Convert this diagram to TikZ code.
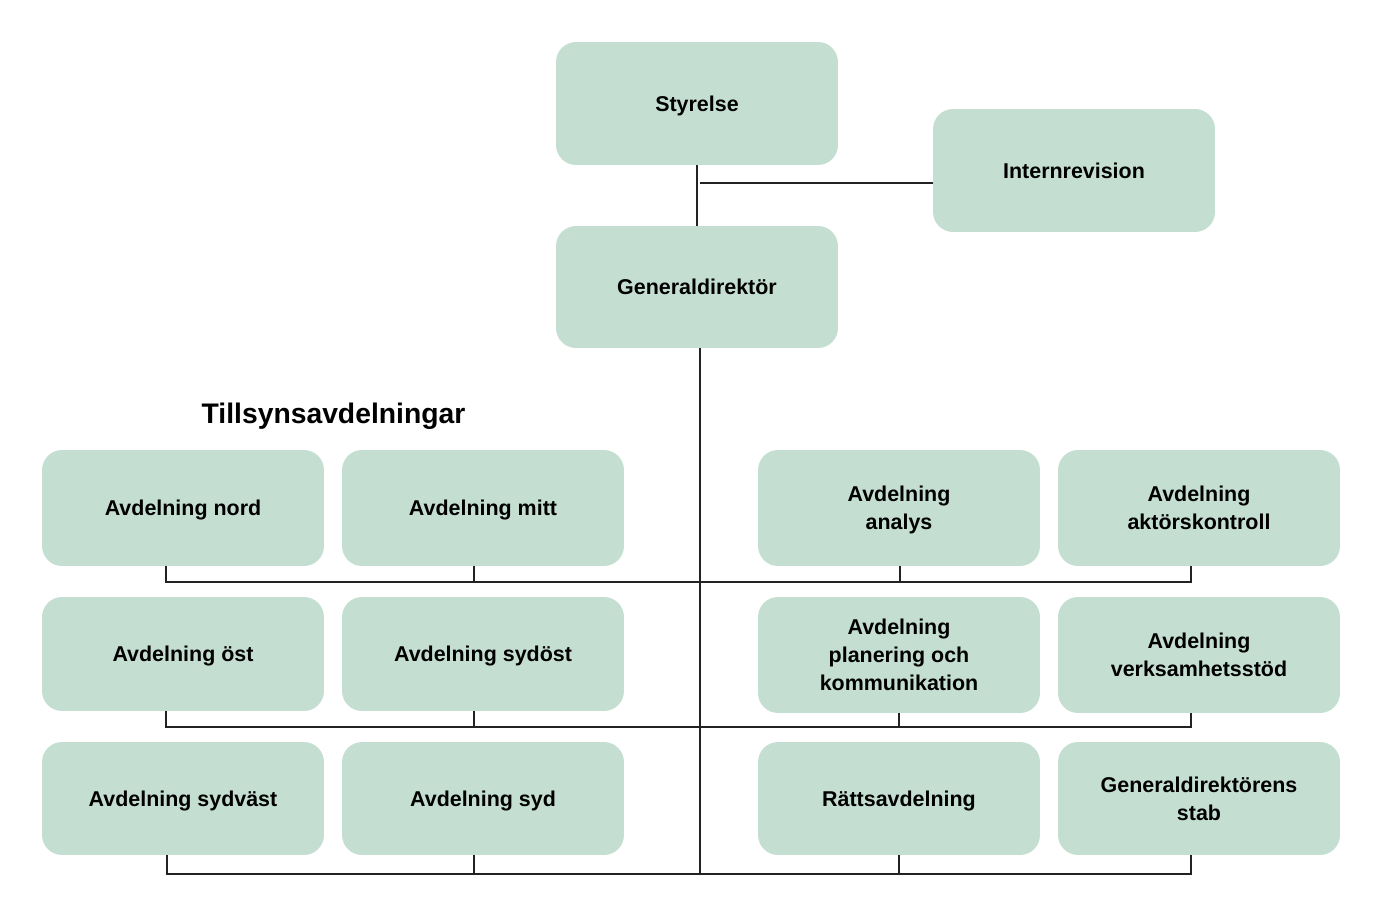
\documentclass[tikz,border=0pt]{standalone}
\usepackage{fontspec}
\setmainfont{Liberation Sans}
\definecolor{boxgreen}{HTML}{C4DED2}
\definecolor{linecol}{HTML}{222222}
\newcommand{\nd}[1]{\raisebox{0pt}[\height][0pt]{#1}}
\begin{document}
\begin{tikzpicture}[x=0.02cm,y=-0.02cm,
  box/.style={rectangle, rounded corners=0.4cm, fill=boxgreen, minimum width=5.64cm, minimum height=2.32cm, align=center, inner sep=2pt, font=\bfseries\fontsize{12.2}{15.9}\selectfont},
  conn/.style={line width=1.1pt, linecol}]
\useasboundingbox (0,0) rectangle (1382,919);
% top
\node[box, minimum height=2.46cm] (sty) at (697,103.5) {\nd{Styrelse}};
\node[box, minimum height=2.46cm] (ir) at (1074,170.5) {\nd{Internrevision}};
\node[box, minimum height=2.44cm] (gd) at (697,287) {\nd{Generaldirektör}};
\node[font=\bfseries\fontsize{16.1}{19}\selectfont] (title) at (333.5,416) {Tillsynsavdelningar};
% row 1
\node[box] (nord) at (183,508) {\nd{Avdelning nord}};
\node[box] (mitt) at (483,508) {\nd{Avdelning mitt}};
\node[box] (analys) at (899,508) {Avdelning\\\nd{analys}};
\node[box] (aktor) at (1199,508) {Avdelning\\\nd{aktörskontroll}};
% row 2
\node[box, minimum height=2.28cm] (ost) at (183,654) {\nd{Avdelning öst}};
\node[box, minimum height=2.28cm] (sydost) at (483,654) {\nd{Avdelning sydöst}};
\node[box] (plan) at (899,655) {Avdelning\\planering och\\\nd{kommunikation}};
\node[box] (verk) at (1199,655) {Avdelning\\\nd{verksamhetsstöd}};
% row 3
\node[box, minimum height=2.26cm] (sydvast) at (183,798.5) {\nd{Avdelning sydväst}};
\node[box, minimum height=2.26cm] (syd) at (483,798.5) {\nd{Avdelning syd}};
\node[box, minimum height=2.26cm] (ratt) at (899,798.5) {\nd{Rättsavdelning}};
\node[box, minimum height=2.26cm] (stab) at (1199,798.5) {Generaldirektörens\\\nd{stab}};
% coordinates
\coordinate (j0) at (700,183);
\coordinate (t0) at (700,348);
\coordinate (t3) at (700,875);
\coordinate (h1L) at (166,582);
\coordinate (h1R) at (1191,582);
\coordinate (s1m) at (474,582);
\coordinate (s1a) at (900,582);
\coordinate (h2L) at (166,727);
\coordinate (h2R) at (1191,727);
\coordinate (s2m) at (474,727);
\coordinate (s2a) at (899,727);
\coordinate (h3L) at (167,874);
\coordinate (h3R) at (1191,874);
\coordinate (s3m) at (474,874);
\coordinate (s3a) at (899,874);
% connectors
\draw[conn] (sty.south) -- (gd.north);
\draw[conn] (ir.west |- j0) -- (j0);
\draw[conn] (gd.south -| t0) -- (t3);
\draw[conn] (nord.south -| h1L) -- (h1L) -- (h1R) -- (aktor.south -| h1R);
\draw[conn] (mitt.south -| s1m) -- (s1m);
\draw[conn] (analys.south -| s1a) -- (s1a);
\draw[conn] (ost.south -| h2L) -- (h2L) -- (h2R) -- (verk.south -| h2R);
\draw[conn] (sydost.south -| s2m) -- (s2m);
\draw[conn] (plan.south -| s2a) -- (s2a);
\draw[conn] (sydvast.south -| h3L) -- (h3L) -- (h3R) -- (stab.south -| h3R);
\draw[conn] (syd.south -| s3m) -- (s3m);
\draw[conn] (ratt.south -| s3a) -- (s3a);
\end{tikzpicture}
\end{document}
